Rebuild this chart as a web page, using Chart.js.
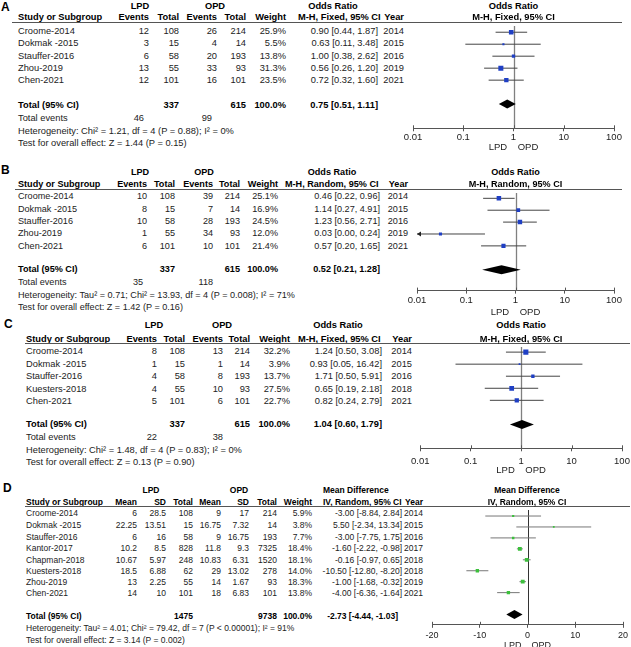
<!DOCTYPE html>
<html>
<head>
<meta charset="utf-8">
<script src="https://cdn.jsdelivr.net/npm/chart.js@4.4.1/dist/chart.umd.min.js"></script>
<style>
html, body { margin: 0; padding: 0; background: #fff; overflow: hidden; }
#fig { position: relative; width: 631px; height: 647px; font-family: "Liberation Sans", Arial, sans-serif; font-size: 9.5px; color: #222; }
.t { position: absolute; white-space: pre; line-height: 12px; height: 12px; }
.b { font-weight: bold; color: #000; }
.rule { position: absolute; height: 1px; background: #555; }
canvas { position: absolute; }
</style>
</head>
<body>
<div id="fig"></div>
<script>
// ---------- panel A ----------
const studiesA = ["Croome-2014", "Dokmak -2015", "Stauffer-2016", "Zhou-2019", "Chen-2021"];
const lpdEventsA = [12, 3, 6, 13, 12];
const lpdTotalA = [108, 15, 58, 55, 101];
const opdEventsA = [26, 4, 20, 33, 16];
const opdTotalA = [214, 14, 193, 93, 101];
const weightA = [25.9, 5.5, 13.8, 31.3, 23.5];
const orA = [0.90, 0.63, 1.00, 0.56, 0.72];
const orLowA = [0.44, 0.11, 0.38, 0.26, 0.32];
const orHighA = [1.87, 3.48, 2.62, 1.20, 1.60];
const yearA = [2014, 2015, 2016, 2019, 2021];
const pooledA = [0.75, 0.51, 1.11];
const sumsA = [46, 337, 99, 615];   // LPD events, LPD total, OPD events, OPD total
const hetA = "Heterogeneity: Chi² = 1.21, df = 4 (P = 0.88); I² = 0%";
const testA = "Test for overall effect: Z = 1.44 (P = 0.15)";

// ---------- panel B ----------
const studiesB = ["Croome-2014", "Dokmak -2015", "Stauffer-2016", "Zhou-2019", "Chen-2021"];
const lpdEventsB = [10, 8, 10, 1, 6];
const lpdTotalB = [108, 15, 58, 55, 101];
const opdEventsB = [39, 7, 28, 34, 10];
const opdTotalB = [214, 14, 193, 93, 101];
const weightB = [25.1, 16.9, 24.5, 12.0, 21.4];
const orB = [0.46, 1.14, 1.23, 0.03, 0.57];
const orLowB = [0.22, 0.27, 0.56, 0.00, 0.20];
const orHighB = [0.96, 4.91, 2.71, 0.24, 1.65];
const yearB = [2014, 2015, 2016, 2019, 2021];
const pooledB = [0.52, 0.21, 1.28];
const sumsB = [35, 337, 118, 615];
const hetB = "Heterogeneity: Tau² = 0.71; Chi² = 13.93, df = 4 (P = 0.008); I² = 71%";
const testB = "Test for overall effect: Z = 1.42 (P = 0.16)";

// ---------- panel C ----------
const studiesC = ["Croome-2014", "Dokmak -2015", "Stauffer-2016", "Kuesters-2018", "Chen-2021"];
const lpdEventsC = [8, 1, 4, 4, 5];
const lpdTotalC = [108, 15, 58, 55, 101];
const opdEventsC = [13, 1, 8, 10, 6];
const opdTotalC = [214, 14, 193, 93, 101];
const weightC = [32.2, 3.9, 13.7, 27.5, 22.7];
const orC = [1.24, 0.93, 1.71, 0.65, 0.82];
const orLowC = [0.50, 0.05, 0.50, 0.19, 0.24];
const orHighC = [3.08, 16.42, 5.91, 2.18, 2.79];
const yearC = [2014, 2015, 2016, 2018, 2021];
const pooledC = [1.04, 0.60, 1.79];
const sumsC = [22, 337, 38, 615];
const hetC = "Heterogeneity: Chi² = 1.48, df = 4 (P = 0.83); I² = 0%";
const testC = "Test for overall effect: Z = 0.13 (P = 0.90)";

// ---------- panel D ----------
const studiesD = ["Croome-2014", "Dokmak -2015", "Stauffer-2016", "Kantor-2017", "Chapman-2018", "Kuesters-2018", "Zhou-2019", "Chen-2021"];
const lpdMeanD = [6, 22.25, 6, 10.2, 10.67, 18.5, 13, 14];
const lpdSdD = [28.5, 13.51, 16, 8.5, 5.97, 6.88, 2.25, 10];
const lpdTotalD = [108, 15, 58, 828, 248, 62, 55, 101];
const opdMeanD = [9, 16.75, 9, 11.8, 10.83, 29, 14, 18];
const opdSdD = [17, 7.32, 16.75, 9.3, 6.31, 13.02, 1.67, 6.83];
const opdTotalD = [214, 14, 193, 7325, 1520, 278, 93, 101];
const weightD = [5.9, 3.8, 7.7, 18.4, 18.1, 14.0, 18.3, 13.8];
const mdD = [-3.00, 5.50, -3.00, -1.60, -0.16, -10.50, -1.00, -4.00];
const mdLowD = [-8.84, -2.34, -7.75, -2.22, -0.97, -12.80, -1.68, -6.36];
const mdHighD = [2.84, 13.34, 1.75, -0.98, 0.65, -8.20, -0.32, -1.64];
const yearD = [2014, 2015, 2016, 2017, 2018, 2018, 2019, 2021];
const pooledD = [-2.73, -4.44, -1.03];
const sumsD = [1475, 9738];
const hetD = "Heterogeneity: Tau² = 4.01; Chi² = 79.42, df = 7 (P < 0.00001); I² = 91%";
const testD = "Test for overall effect: Z = 3.14 (P = 0.002)";

const orTicks = [0.01, 0.1, 1, 10, 100];
const orTickLabels = ["0.01", "0.1", "1", "10", "100"];
const mdTicks = [-20, -10, 0, 10, 20];
const mdTickLabels = ["-20", "-10", "0", "10", "20"];

const FONT = "'Liberation Sans', Arial, sans-serif";
const PAD = 12;
const fig = document.getElementById("fig");
let fs = 9.5;   // font size of the panel being built

function put(s, x, y, align, bold, size) {
  const d = document.createElement("div");
  d.className = "t" + (bold ? " b" : "");
  d.textContent = s;
  d.style.fontSize = (size || fs) + "px";
  if (align === "r") {
    d.style.left = (x - 300) + "px"; d.style.width = "300px"; d.style.textAlign = "right";
  } else if (align === "c") {
    d.style.left = (x - 150) + "px"; d.style.width = "300px"; d.style.textAlign = "center";
  } else {
    d.style.left = x + "px";
  }
  d.style.top = (y - 6) + "px";
  fig.appendChild(d);
}

function rule(L) {
  const r = document.createElement("div");
  r.className = "rule";
  r.style.left = L.ruleX[0] + "px";
  r.style.width = (L.ruleX[1] - L.ruleX[0]) + "px";
  r.style.top = L.rule + "px";
  fig.appendChild(r);
}

function ci(e, lo, hi) {
  return e.toFixed(2) + " [" + lo.toFixed(2) + ", " + hi.toFixed(2) + "]";
}

// reference line, upper tick halves, pooled diamond and off-scale arrows
const forestPlugin = {
  id: "forest",
  beforeDatasetsDraw(chart, args, o) {
    const { ctx, chartArea: a, scales: { x } } = chart;
    ctx.save();
    ctx.lineWidth = o.refWidth;
    ctx.strokeStyle = o.refColor;
    const rx = Math.round(x.getPixelForValue(o.ref)) + 0.5;
    ctx.beginPath(); ctx.moveTo(rx, a.top); ctx.lineTo(rx, a.bottom); ctx.stroke();
    ctx.lineWidth = 1;
    ctx.strokeStyle = o.axisColor;
    x.ticks.forEach(t => {
      const px = Math.round(x.getPixelForValue(t.value)) + 0.5;
      ctx.beginPath(); ctx.moveTo(px, a.bottom - 3); ctx.lineTo(px, a.bottom); ctx.stroke();
    });
    ctx.restore();
  },
  afterDatasetsDraw(chart, args, o) {
    const { ctx, scales: { x, y } } = chart;
    const [est, lo, hi] = o.pooled;
    const cy = y.getPixelForValue(o.pooledRow);
    ctx.save();
    ctx.fillStyle = "#000";
    ctx.beginPath();
    ctx.moveTo(x.getPixelForValue(lo), cy);
    ctx.lineTo(x.getPixelForValue(est), cy - 4.5);
    ctx.lineTo(x.getPixelForValue(hi), cy);
    ctx.lineTo(x.getPixelForValue(est), cy + 4.5);
    ctx.closePath();
    ctx.fill();
    ctx.fillStyle = "#222";
    o.low.forEach((v, i) => {
      if (v < x.min) {
        const px = x.getPixelForValue(x.min), py = y.getPixelForValue(i + 1);
        ctx.beginPath();
        ctx.moveTo(px, py); ctx.lineTo(px + 4, py - 2.5); ctx.lineTo(px + 4, py + 2.5);
        ctx.closePath(); ctx.fill();
      }
    });
    ctx.restore();
  }
};

function forest(P, L) {
  const cv = document.createElement("canvas");
  const w = (L.x1 - L.x0) + 2 * PAD;
  const scaleH = L.titleOff + 5.7;
  const h = Math.ceil((L.axis - L.rule) + scaleH);
  cv.width = w; cv.height = h;
  cv.style.left = (L.x0 - PAD) + "px";
  cv.style.top = L.rule + "px";
  cv.style.width = w + "px"; cv.style.height = h + "px";
  fig.appendChild(cv);

  const xmin = P.ticks[0], xmax = P.ticks[P.ticks.length - 1];
  const datasets = [{
    data: P.est.map((v, i) => ({ x: v, y: i + 1 })),
    pointStyle: "rect",
    pointRadius: c => Math.sqrt(P.weight[c.dataIndex]) * 0.9 / Math.SQRT2,
    backgroundColor: P.mark,
    borderWidth: 0
  }];
  P.est.forEach((v, i) => {
    datasets.push({
      data: [{ x: Math.max(P.low[i], xmin), y: i + 1 }, { x: Math.min(P.high[i], xmax), y: i + 1 }],
      showLine: true, pointRadius: 0, borderColor: L.ciColor, borderWidth: 1
    });
  });

  const chart = new Chart(cv, {
    type: "scatter",
    data: { datasets },
    options: {
      responsive: false, animation: false, events: [],
      layout: { padding: { left: PAD, right: PAD, top: 0, bottom: 0 } },
      plugins: {
        legend: { display: false }, tooltip: { enabled: false },
        forest: { ref: P.ref, refColor: L.refColor, refWidth: L.refWidth, axisColor: L.axisColor,
                  pooled: P.pooled, pooledRow: P.est.length + 2, low: P.low }
      },
      scales: {
        x: {
          type: P.log ? "logarithmic" : "linear",
          min: xmin, max: xmax,
          afterBuildTicks: s => { s.ticks = P.ticks.map(v => ({ value: v })); },
          afterFit: s => { s.height = scaleH; },
          ticks: {
            callback: v => P.tickLabels[P.ticks.indexOf(v)],
            font: { family: FONT, size: L.tickFs }, color: "#222",
            padding: L.tickPad, maxRotation: 0, autoSkip: false
          },
          grid: { display: true, drawOnChartArea: false, drawTicks: true, tickLength: 3, color: L.axisColor },
          border: { display: true, color: L.axisColor, width: 1 },
          title: { display: true, text: "LPD    OPD", font: { family: FONT, size: L.tickFs }, color: "#222", padding: { top: 0, bottom: 0 } }
        },
        y: { type: "linear", display: false, min: L.ymin, max: L.ymax, reverse: true }
      }
    },
    plugins: [forestPlugin]
  });
  const refX = L.x0 - PAD + chart.scales.x.getPixelForValue(P.ref);
  put(P.head1, refX, L.h1, "c", true);
  put(P.method, refX, L.h2, "c", true);
}

function orPanel(P, L) {
  fs = L.fs;
  put(P.letter, L.letter[0], L.letter[1], "l", true, 12);
  put("LPD", L.lpd, L.h1, "c", true);
  put("OPD", L.opd, L.h1, "c", true);
  put(P.head1, L.ciMid, L.h1, "c", true);
  put("Study or Subgroup", L.study, L.h2, "l", true);
  ["Events", "Total", "Events", "Total", "Weight"].forEach((s, k) => put(s, L.cols[k], L.h2, "r", true));
  put(P.method, L.ciLeft, L.h2, "l", true);
  put("Year", L.year, L.h2, "r", true);
  rule(L);
  P.studies.forEach((s, i) => {
    const y = L.rows[i];
    put(s, L.study, y, "l");
    [P.e1[i], P.n1[i], P.e2[i], P.n2[i]].forEach((v, k) => put(String(v), L.cols[k], y, "r"));
    put(P.weight[i].toFixed(1) + "%", L.cols[4], y, "r");
    put(ci(P.est[i], P.low[i], P.high[i]), L.ci, y, "r");
    put(String(P.year[i]), L.year, y, "r");
  });
  put("Total (95% CI)", L.study, L.total, "l", true);
  put(String(P.sums[1]), L.cols[1], L.total, "r", true);
  put(String(P.sums[3]), L.cols[3], L.total, "r", true);
  put("100.0%", L.cols[4], L.total, "r", true);
  put(ci(P.pooled[0], P.pooled[1], P.pooled[2]), L.ci, L.total, "r", true);
  put("Total events", L.study, L.evRow, "l");
  put(String(P.sums[0]), L.ev[0], L.evRow, "r");
  put(String(P.sums[2]), L.ev[1], L.evRow, "r");
  put(P.het, L.study, L.het, "l");
  put(P.test, L.study, L.test, "l");
  forest(P, L);
}

function mdPanel(P, L) {
  fs = L.fs;
  put(P.letter, L.letter[0], L.letter[1], "l", true, 12);
  put("LPD", L.lpd, L.h1, "c", true);
  put("OPD", L.opd, L.h1, "c", true);
  put(P.head1, L.ciLeft, L.h1, "l", true);
  put("Study or Subgroup", L.study, L.h2, "l", true);
  ["Mean", "SD", "Total", "Mean", "SD", "Total", "Weight"].forEach((s, k) => put(s, L.cols[k], L.h2, "r", true));
  put(P.method, L.ciLeft, L.h2, "l", true);
  put("Year", L.year, L.h2, "r", true);
  rule(L);
  P.studies.forEach((s, i) => {
    const y = L.rows[i];
    put(s, L.study, y, "l");
    [P.m1[i], P.s1[i], P.n1[i], P.m2[i], P.s2[i], P.n2[i]].forEach((v, k) => put(String(v), L.cols[k], y, "r"));
    put(P.weight[i].toFixed(1) + "%", L.cols[6], y, "r");
    put(ci(P.est[i], P.low[i], P.high[i]), L.ci, y, "r");
    put(String(P.year[i]), L.year, y, "r");
  });
  put("Total (95% CI)", L.study, L.total, "l", true);
  put(String(P.sums[0]), L.cols[2], L.total, "r", true);
  put(String(P.sums[1]), L.cols[5], L.total, "r", true);
  put("100.0%", L.cols[6], L.total, "r", true);
  put(ci(P.pooled[0], P.pooled[1], P.pooled[2]), L.ciTotal, L.total, "r", true);
  put(P.het, L.study, L.het, "l");
  put(P.test, L.study, L.test, "l");
  forest(P, L);
}

orPanel({
  letter: "A", head1: "Odds Ratio", method: "M-H, Fixed, 95% CI",
  studies: studiesA, e1: lpdEventsA, n1: lpdTotalA, e2: opdEventsA, n2: opdTotalA,
  weight: weightA, est: orA, low: orLowA, high: orHighA, year: yearA, pooled: pooledA, sums: sumsA,
  het: hetA, test: testA, ticks: orTicks, tickLabels: orTickLabels, log: true, ref: 1, mark: "#1f3fc4"
}, {
  fs: 9.3, tickFs: 9.5,
  letter: [1, 7], h1: 5.5, h2: 17, rule: 22, ruleX: [12, 622],
  lpd: 140, opd: 215, ciMid: 333, ciLeft: 298, study: 18,
  cols: [149, 179, 217, 246, 286], ci: 378, year: 404,
  rows: [31, 43.3, 55.6, 68, 80.4], total: 105, evRow: 118, ev: [144, 212], het: 131, test: 143,
  x0: 413, x1: 614, axis: 128, ymin: 0.48, ymax: 9.02, tickPad: 0, titleOff: 19,
  refColor: "#808080", refWidth: 1.3, axisColor: "#555", ciColor: "#444"
});

orPanel({
  letter: "B", head1: "Odds Ratio", method: "M-H, Random, 95% CI",
  studies: studiesB, e1: lpdEventsB, n1: lpdTotalB, e2: opdEventsB, n2: opdTotalB,
  weight: weightB, est: orB, low: orLowB, high: orHighB, year: yearB, pooled: pooledB, sums: sumsB,
  het: hetB, test: testB, ticks: orTicks, tickLabels: orTickLabels, log: true, ref: 1, mark: "#1f3fc4"
}, {
  fs: 9.1, tickFs: 9.5,
  letter: [1, 170], h1: 171.5, h2: 184, rule: 189, ruleX: [15, 622],
  lpd: 140, opd: 204, ciMid: 332, ciLeft: 285, study: 18,
  cols: [147, 175, 213, 240, 278], ci: 380, year: 408,
  rows: [196, 209, 221, 233.3, 246], total: 269, evRow: 282, ev: [143, 213], het: 294.5, test: 306.5,
  x0: 417, x1: 614, axis: 290, ymin: 0.553, ymax: 8.76, tickPad: 0.6, titleOff: 21.7,
  refColor: "#808080", refWidth: 1.3, axisColor: "#555", ciColor: "#444"
});

orPanel({
  letter: "C", head1: "Odds Ratio", method: "M-H, Fixed, 95% CI",
  studies: studiesC, e1: lpdEventsC, n1: lpdTotalC, e2: opdEventsC, n2: opdTotalC,
  weight: weightC, est: orC, low: orLowC, high: orHighC, year: yearC, pooled: pooledC, sums: sumsC,
  het: hetC, test: testC, ticks: orTicks, tickLabels: orTickLabels, log: true, ref: 1, mark: "#1f3fc4"
}, {
  fs: 9.3, tickFs: 9.5,
  letter: [4, 324], h1: 325, h2: 338.5, rule: 343, ruleX: [25, 630],
  lpd: 154, opd: 222, ciMid: 338, ciLeft: 298, study: 26,
  cols: [157, 185, 223, 250, 290], ci: 382, year: 412,
  rows: [351, 364, 376, 388.5, 401], total: 424, evRow: 437, ev: [157, 223], het: 449.5, test: 462,
  x0: 419, x1: 622, axis: 448, ymin: 0.576, ymax: 8.98, tickPad: 4, titleOff: 22,
  refColor: "#808080", refWidth: 1.3, axisColor: "#555", ciColor: "#444"
});

mdPanel({
  letter: "D", head1: "Mean Difference", method: "IV, Random, 95% CI",
  studies: studiesD, m1: lpdMeanD, s1: lpdSdD, n1: lpdTotalD, m2: opdMeanD, s2: opdSdD, n2: opdTotalD,
  weight: weightD, est: mdD, low: mdLowD, high: mdHighD, year: yearD, pooled: pooledD, sums: sumsD,
  het: hetD, test: testD, ticks: mdTicks, tickLabels: mdTickLabels, log: false, ref: 0, mark: "#3cc03c"
}, {
  fs: 8.5, tickFs: 9,
  letter: [3, 488], h1: 490, h2: 502, rule: 505.5, ruleX: [25, 630],
  lpd: 151, opd: 239, ciLeft: 323, study: 26,
  cols: [137, 166, 193, 221, 249, 277, 312], ci: 402, ciTotal: 398, year: 423,
  rows: [513.3, 525, 536.7, 548.3, 559.5, 570.7, 581.7, 593.3], total: 616, het: 628, test: 640,
  x0: 431.5, x1: 623.3, axis: 624.3, ymin: 0.45, ymax: 10.94, tickPad: 2, titleOff: 20.5,
  refColor: "#333", refWidth: 1, axisColor: "#555", ciColor: "#777"
});
</script>
</body>
</html>
